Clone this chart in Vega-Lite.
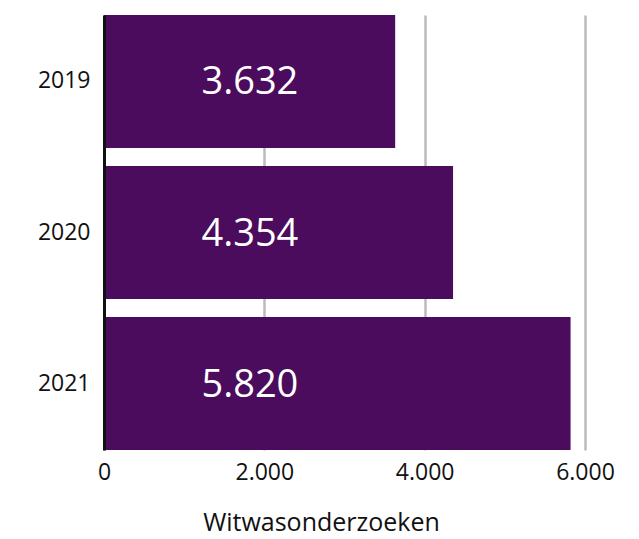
{
  "$schema": "https://vega.github.io/schema/vega-lite/v6.json",
  "width": 481,
  "height": 435,
  "autosize": {"type": "none"},
  "padding": {"left": 104, "top": 15, "right": 54, "bottom": 89},
  "background": "white",
  "config": {
    "view": {"stroke": null},
    "font": "Open Sans",
    "locale": {"number": {"decimal": ",", "thousands": ".", "grouping": [3], "currency": ["€", ""]}}
  },
  "data": {"values": [
    {"jaar": "2019", "aantal": 3632},
    {"jaar": "2020", "aantal": 4354},
    {"jaar": "2021", "aantal": 5820}
  ]},
  "encoding": {
    "y": {
      "field": "jaar", "type": "nominal", "sort": null,
      "scale": {"paddingInner": 0.12, "paddingOuter": 0},
      "axis": {
        "title": null, "ticks": false, "tickSize": 0, "labelPadding": 14,
        "labelFontSize": 23, "labelColor": "#111", "labelFont": "Open Sans",
        "domainColor": "#111", "domainWidth": 3, "grid": false, "zindex": 2
      }
    }
  },
  "layer": [
    {
      "mark": {"type": "bar", "color": "#4b0c5d"},
      "encoding": {
        "x": {
          "field": "aantal", "type": "quantitative",
          "scale": {"domain": [0, 6000], "nice": false},
          "axis": {
            "values": [0, 2000, 4000, 6000], "format": ",d", "labelFlush": false,
            "title": "Witwasonderzoeken", "titleFontSize": 25, "titleFontWeight": "normal",
            "titleColor": "#111", "titleX": 217, "titleY": 80, "titleAlign": "center",
            "titleBaseline": "alphabetic", "titleAnchor": null,
            "labelFontSize": 23, "labelColor": "#111", "labelPadding": 11,
            "ticks": false, "tickSize": 0, "domain": false,
            "grid": true, "gridColor": "#bbbbbb", "gridWidth": 2.5, "zindex": 0
          }
        }
      }
    },
    {
      "mark": {"type": "text", "color": "white", "fontSize": 38, "align": "center", "baseline": "middle", "dy": 2},
      "encoding": {
        "x": {"datum": 1820, "type": "quantitative"},
        "text": {"field": "aantal", "type": "quantitative", "format": ",d"}
      }
    }
  ]
}
